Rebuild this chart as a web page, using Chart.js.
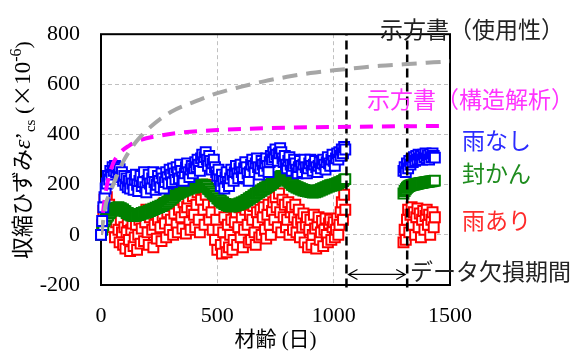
<!DOCTYPE html>
<html><head><meta charset="utf-8">
<script src="https://cdn.jsdelivr.net/npm/chart.js@4.4.1/dist/chart.umd.min.js"></script>
<style>html,body{margin:0;padding:0;background:#fff}</style>
</head><body>
<canvas id="c" width="578" height="356"></canvas>
<script>
// 材齢 (日) の刻み：測定は5日ごと
const STEP=5;
const start1=0, start2=1300;
const gapStart=1055, gapEnd=1316;
const xTicks=[0,500,1000,1500];
const yTicks=[-200,0,200,400,600,800];

// 雨なし
const rainNone1=[
 0,55,110,150,185,205,235,220,255,240,270,255,275,250,268,240,262,230,250,215,
 235,200,225,190,215,185,230,205,180,220,240,200,175,215,235,195,210,250,190,170,
 215,240,205,185,225,250,210,180,200,235,215,190,245,225,185,210,250,230,205,260,
 240,210,265,245,220,270,250,225,280,255,230,215,245,270,285,250,230,260,275,245,
 265,290,270,300,280,255,305,320,290,310,330,300,275,315,295,260,285,300,270,250,
 235,260,220,195,240,215,185,230,250,210,195,225,260,240,215,250,275,245,225,265,
 280,250,230,265,290,270,245,215,250,280,300,275,250,285,305,270,240,265,295,280,
 255,285,305,275,250,290,315,300,330,310,340,320,295,325,345,330,305,290,315,280,
 265,295,310,280,255,275,300,285,260,245,270,295,275,250,280,300,270,245,265,285,
 300,275,255,280,295,270,250,275,290,265,285,300,280,260,290,310,285,275,300,320,
 295,275,305,325,300,330,315,340,325,350,340];
const rainNone2=[255,270,250,285,265,295,280,300,290,310,295,315,300,320,305,315,300,320,310,325,305,318,300,322,310,325,315,308];

// 封かん
const sealed1=[
 0,20,38,54,62,72,77,86,89,96,97,103,103,108,106,110,105,106,101,101,
 95,94,87,87,81,82,77,79,75,78,76,80,79,83,82,87,85,90,88,92,
 91,96,95,100,99,104,103,108,107,112,111,116,115,120,120,126,126,132,133,140,
 141,148,149,156,157,163,163,169,169,174,173,178,177,182,181,186,185,190,189,193,
 189,194,193,197,195,199,197,201,197,198,193,192,184,182,174,172,165,164,156,154,
 146,144,137,136,129,129,123,123,118,119,115,117,113,117,115,119,117,122,120,125,
 124,129,128,133,133,139,139,145,145,151,151,157,157,164,164,170,170,176,176,182,
 182,188,188,194,194,200,200,206,207,214,215,222,223,230,230,235,231,231,224,223,
 216,215,208,207,200,200,194,194,189,190,185,186,181,182,177,179,175,177,173,175,
 171,173,169,172,170,174,173,178,177,182,181,186,185,190,189,194,193,198,196,200,
 198,202,201,206,205,210,209,214,214,220,222];
const sealed2=[165,175,182,188,192,195,197,199,200,201,202,203,204,205,206,206,207,208,209,210,210,211,212,213,213,214,215,216];

// 雨あり
const rainYes1=[
 0,40,95,140,110,150,80,120,60,100,30,75,-10,50,95,20,-30,60,10,-40,
 30,-55,10,55,-20,-65,20,45,-45,-10,40,-60,0,60,-35,25,80,-25,50,100,
 10,-40,70,95,20,-50,40,85,-15,60,110,30,-25,75,125,45,-10,90,130,20,
 60,115,0,85,140,40,10,100,150,70,25,130,90,5,110,145,50,20,95,155,
 80,30,120,170,60,10,140,185,100,40,160,200,120,60,180,90,20,130,-20,60,
 -60,20,100,-40,-75,10,70,-30,-70,40,-50,0,60,-60,-20,50,90,-40,30,110,
 -10,70,-50,20,100,120,40,-30,80,-20,60,115,10,-40,90,50,-10,100,0,70,
 110,20,-15,80,120,40,0,95,130,60,150,110,30,165,90,10,140,70,120,30,
 60,130,0,90,110,20,70,120,10,50,100,-10,60,30,85,-30,40,70,-50,20,
 60,-40,0,80,25,-55,40,70,-20,10,55,-45,20,65,0,-30,45,60,-20,30,
 50,-10,20,65,0,40,90,130,60,160,100];
const rainYes2=[-30,20,-20,60,100,10,80,110,40,90,0,70,105,30,85,-10,60,95,20,75,100,40,80,0,60,90,30,70];

// 示方書（使用性）
const specUseDays=[0,10,20,40,70,100,150,200,300,400,500,600,700,800,900,1000,1100,1200,1300,1400,1500];
const specUseVals=[0,60,120,170,240,300,370,420,490,530,565,590,612,630,645,656,665,674,680,686,692];
// 示方書（構造解析）
const specStrDays=[0,10,25,50,80,120,170,250,350,500,700,1000,1460];
const specStrVals=[0,100,195,280,325,355,378,395,408,418,425,430,434];

const series=(s,v)=>v.map((y,i)=>({x:s+i*STEP,y}));
const pairs=(d,v)=>d.map((x,i)=>({x,y:v[i]}));

const markers=(vals1,vals2,col,order)=>({
  data:series(start1,vals1).concat(series(start2,vals2)),
  showLine:false, pointStyle:'rect', pointRadius:7, pointBorderWidth:2,
  pointBorderColor:col, pointBackgroundColor:'#fff', borderColor:col, clip:false, order
});
const dashed=(d,v,col,dash,order)=>({
  data:pairs(d,v), showLine:true, pointRadius:0, borderColor:col, borderWidth:4,
  borderDash:dash, cubicInterpolationMode:'monotone', fill:false, order
});
const vline=(x)=>({
  data:[{x,y:-210},{x,y:800}], showLine:true, pointRadius:0, borderColor:'#000',
  borderWidth:2.5, borderDash:[9,5], clip:false, order:2
});

const labels=[
  {t:'示方書（使用性）',c:'#222',x:380,y:29},
  {t:'示方書（構造解析）',c:'#ff33ff',x:367,y:99},
  {t:'雨なし',c:'#2b2bff',x:462,y:140},
  {t:'封かん',c:'#1e8c1e',x:462,y:173},
  {t:'雨あり',c:'#ff2a2a',x:462,y:220},
  {t:'データ欠損期間',c:'#222',x:410,y:271}
];

const SERIF='"Liberation Serif"';
Chart.defaults.font.family=SERIF;
const decor={id:'decor',
  beforeDatasetsDraw(ch){
    const {ctx,chartArea:a}=ch;
    ctx.save(); ctx.strokeStyle='#000'; ctx.lineWidth=2;
    ctx.strokeRect(a.left,a.top,a.right-a.left,a.bottom-a.top); ctx.restore();
  },
  afterDraw(ch){
    const ctx=ch.ctx, sx=ch.scales.x, sy=ch.scales.y;
    ctx.save();
    ctx.font='23px "Noto Sans CJK JP"'; ctx.textBaseline='middle'; ctx.textAlign='left';
    labels.forEach(l=>{ctx.fillStyle=l.c; ctx.fillText(l.t,l.x,l.y);});
    // 欠損期間の矢印
    const x1=sx.getPixelForValue(gapStart)+2, x2=sx.getPixelForValue(gapEnd)-2, y=sy.getPixelForValue(-158);
    ctx.strokeStyle='#000'; ctx.lineWidth=1.2;
    ctx.beginPath(); ctx.moveTo(x1,y); ctx.lineTo(x2,y);
    ctx.moveTo(x1+9,y-5); ctx.lineTo(x1,y); ctx.lineTo(x1+9,y+5);
    ctx.moveTo(x2-9,y-5); ctx.lineTo(x2,y); ctx.lineTo(x2-9,y+5);
    ctx.stroke();
    // 縦軸タイトル
    const parts=[
      {t:'収縮ひずみ',f:'22px "Noto Sans CJK JP"',dy:0},
      {t:'ε',f:'italic 24px '+SERIF,dy:0},
      {t:'\u2019',f:'22px '+SERIF,dy:0},
      {t:'cs',f:'15px '+SERIF,dy:5},
      {t:' (',f:'22px '+SERIF,dy:0},
      {t:'×',f:'22px "Noto Sans CJK JP"',dy:0},
      {t:'10',f:'23px '+SERIF,dy:0},
      {t:'-6',f:'16px '+SERIF,dy:-9},
      {t:')',f:'22px '+SERIF,dy:0}
    ];
    let w=0; parts.forEach(p=>{ctx.font=p.f; p.w=ctx.measureText(p.t).width; w+=p.w;});
    ctx.translate(23,150); ctx.rotate(-Math.PI/2);
    ctx.fillStyle='#000'; ctx.textBaseline='alphabetic';
    let x=-w/2;
    parts.forEach(p=>{ctx.font=p.f; ctx.fillText(p.t,x,7+p.dy); x+=p.w;});
    ctx.restore();
  }
};

const tickFont={family:SERIF,size:22};
new Chart(document.getElementById('c'),{
  type:'scatter',
  data:{datasets:[
    dashed(specUseDays,specUseVals,'#a6a6a6',[15,9],0),
    dashed(specStrDays,specStrVals,'#ff00ff',[13,9],1),
    vline(gapStart), vline(gapEnd),
    markers(rainNone1,rainNone2,'#0000ff',3),
    markers(sealed1,sealed2,'#008000',4),
    markers(rainYes1,rainYes2,'#ff0000',5)
  ]},
  options:{
    responsive:false, animation:false, events:[],
    layout:{padding:{top:13,right:128,left:0,bottom:0}},
    plugins:{legend:{display:false},tooltip:{enabled:false}},
    scales:{
      x:{type:'linear',min:0,max:1500,
        afterBuildTicks:s=>{s.ticks=xTicks.map(v=>({value:v}));},
        afterFit:s=>{s.height=71;},
        ticks:{font:tickFont,color:'#000',padding:18,callback:v=>String(v)},
        grid:{color:'#c0c0c0',drawTicks:false},
        border:{display:false,dash:[4,3]},
        title:{display:true,text:'材齢 (日)',color:'#000',
          font:{family:SERIF+',"Noto Sans CJK JP"',size:21},padding:{top:0,bottom:3}}
      },
      y:{min:-200,max:800,
        afterBuildTicks:s=>{s.ticks=yTicks.map(v=>({value:v}));},
        afterFit:s=>{s.width=101;},
        ticks:{font:tickFont,color:'#000',padding:21,callback:v=>String(v)},
        grid:{color:'#c0c0c0',drawTicks:false},
        border:{display:false,dash:[4,3]}
      }
    }
  },
  plugins:[decor]
});
</script>
</body></html>
